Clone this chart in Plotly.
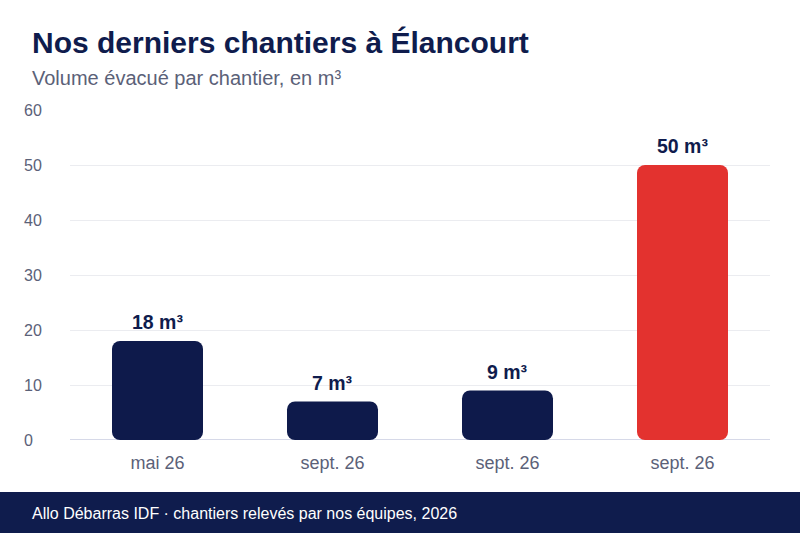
import plotly.graph_objects as go

# data
categories = ['mai 26', 'sept. 26', 'sept. 26', 'sept. 26']
volumes = [18, 7, 9, 50]
bar_colors = ['#0e1a4b', '#0e1a4b', '#0e1a4b', '#e3322f']
y_ticks = [0, 10, 20, 30, 40, 50, 60]

NAVY = '#0f1c4d'
GREY = '#5b6178'
FONT = 'Liberation Sans, Arial, sans-serif'

idx = list(range(len(volumes)))

fig = go.Figure()
# explicit base -> plotly rounds both ends of the bar
fig.add_trace(go.Bar(x=idx, y=volumes, base=[0] * len(volumes),
                     marker=dict(color=bar_colors, line_width=0),
                     width=0.52, showlegend=False,
                     hovertemplate='%{y} m³<extra></extra>'))

for i, v in zip(idx, volumes):
    fig.add_annotation(x=i, y=v, text=f'<b>{v} m³</b>', showarrow=False,
                       yanchor='bottom', yshift=6,
                       font=dict(size=19.5, color=NAVY, family=FONT))

W, L, R = 800, 24, 30
pw = W - L - R
px = 1 / pw

fig.update_layout(
    width=800, height=533,
    margin=dict(l=L, r=R, t=110, b=93),
    plot_bgcolor='white', paper_bgcolor='white',
    barcornerradius=8,
    font=dict(family=FONT, color=GREY),
    title=dict(text='<b>Nos derniers chantiers à Élancourt</b>', x=32 / W, xref='container',
               y=1 - 42 / 533, yref='container', yanchor='middle',
               font=dict(size=30, color=NAVY, family=FONT)),
    xaxis=dict(domain=[(70 - L) / pw, 1], tickvals=idx, ticktext=categories,
               range=[-0.5, len(volumes) - 0.5], showgrid=False, showline=False,
               zeroline=False, ticks='', ticklabelstandoff=10,
               tickfont=dict(size=18, color=GREY)),
    yaxis=dict(range=[0, 60], tickvals=y_ticks, showticklabels=False,
               showgrid=True, gridcolor='#ebecf0', gridwidth=1,
               zeroline=False, showline=False, ticks=''),
)

# y tick labels, left aligned
for t in y_ticks:
    fig.add_annotation(text=str(t), xref='paper', yref='y', x=-2 * px, y=t,
                       xanchor='left', yanchor='middle', showarrow=False,
                       font=dict(size=16, color=GREY, family=FONT))

# subtitle
fig.add_annotation(text='Volume évacué par chantier, en m³', xref='paper', yref='paper',
                   x=(30 - L) * px, y=1 + (110 - 78) / 330, xanchor='left', yanchor='middle',
                   showarrow=False, font=dict(size=20, color=GREY, family=FONT))

# baseline
fig.add_shape(type='line', xref='x domain', yref='y', x0=0, x1=1, y0=0, y1=0,
              line=dict(color='#c9cde0', width=1.5), layer='below')

# footer band
fig.add_shape(type='rect', xref='paper', yref='paper', x0=-L * px - 0.01, x1=1 + R * px + 0.01,
              y0=(440 - 540) / 330, y1=(440 - 492) / 330, fillcolor=NAVY, line_width=0)
fig.add_annotation(text='Allo Débarras IDF · chantiers relevés par nos équipes, 2026',
                   xref='paper', yref='paper', x=(30 - L) * px, y=(440 - 513) / 330,
                   xanchor='left', yanchor='middle', showarrow=False,
                   font=dict(size=16, color='white', family=FONT))

fig.write_html("out.html", config={'displayModeBar': False},
               post_script="document.body.style.margin='0';")
